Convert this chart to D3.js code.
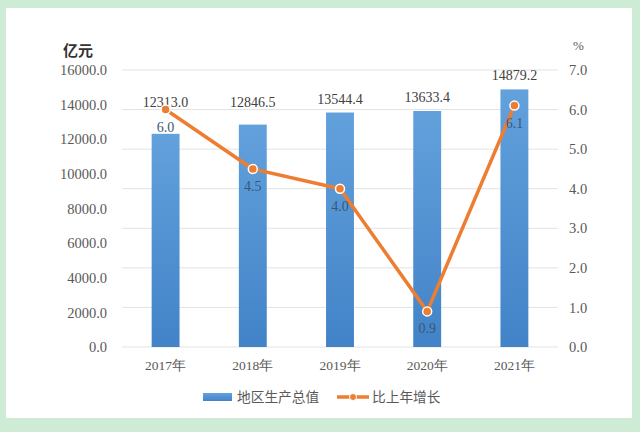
<!DOCTYPE html>
<html>
<head>
<meta charset="utf-8">
<script src="https://cdn.jsdelivr.net/npm/d3@7"></script>
<style>
  body { margin: 0; background: #cdebd5; }
  svg { display: block; }
</style>
</head>
<body>
<div id="chart"></div>
<script>
// data
const years = ["2017年", "2018年", "2019年", "2020年", "2021年"];
const gdp = [12313.0, 12846.5, 13544.4, 13633.4, 14879.2];
const growth = [6.0, 4.5, 4.0, 0.9, 6.1];
const leftTicks = [0, 2000, 4000, 6000, 8000, 10000, 12000, 14000, 16000];
const rightTicks = [0, 1, 2, 3, 4, 5, 6, 7];
const seriesNames = ["地区生产总值", "比上年增长"];

const width = 640, height = 432;
const margin = { top: 70, right: 82, bottom: 85, left: 122 };
const innerWidth = width - margin.left - margin.right;
const innerHeight = height - margin.top - margin.bottom;

const serif = "'Liberation Serif', 'Times New Roman', serif";
const cjk = "'Noto Sans CJK SC', sans-serif";
const textColor = "#595959";

const svg = d3.select("#chart")
  .append("svg")
  .attr("width", width)
  .attr("height", height);

// white panel on green background
svg.append("rect")
  .attr("x", 6).attr("y", 8)
  .attr("width", 626).attr("height", 410)
  .attr("fill", "#ffffff");

const defs = svg.append("defs");
const grad = defs.append("linearGradient")
  .attr("id", "barGrad")
  .attr("x1", 0).attr("y1", 0).attr("x2", 0).attr("y2", 1);
grad.append("stop").attr("offset", "0%").attr("stop-color", "#62a1dc");
grad.append("stop").attr("offset", "100%").attr("stop-color", "#4283c8");

const inner = svg.append("g")
  .attr("transform", `translate(${margin.left}, ${margin.top})`);

// scales
const xScale = d3.scaleBand()
  .domain(years)
  .range([0, innerWidth])
  .paddingInner(0.68)
  .paddingOuter(0.34);

const yLeft = d3.scaleLinear()
  .domain([0, 16000])
  .range([innerHeight, 0]);

const yRight = d3.scaleLinear()
  .domain([0, 7])
  .range([innerHeight, 0]);

// gridlines follow the right axis
inner.append("g")
  .selectAll("line")
  .data(rightTicks)
  .join("line")
  .attr("x1", 0)
  .attr("x2", innerWidth)
  .attr("y1", d => yRight(d))
  .attr("y2", d => yRight(d))
  .attr("stroke", "#e3e3e3")
  .attr("stroke-width", 1);

// left axis
const leftAxis = inner.append("g")
  .call(d3.axisLeft(yLeft).tickValues(leftTicks).tickFormat(d3.format(".1f")).tickSize(0).tickPadding(15));
leftAxis.select(".domain").remove();
leftAxis.selectAll("text")
  .attr("fill", textColor)
  .style("font-family", serif)
  .style("font-size", "14.5px");

// right axis
const rightAxis = inner.append("g")
  .attr("transform", `translate(${innerWidth}, 0)`)
  .call(d3.axisRight(yRight).tickValues(rightTicks).tickFormat(d3.format(".1f")).tickSize(0).tickPadding(11));
rightAxis.select(".domain").remove();
rightAxis.selectAll("text")
  .attr("fill", textColor)
  .style("font-family", serif)
  .style("font-size", "14.5px");

// x axis
const xAxis = inner.append("g")
  .attr("transform", `translate(0, ${innerHeight})`)
  .call(d3.axisBottom(xScale).tickSize(0).tickPadding(13));
xAxis.select(".domain").remove();
xAxis.selectAll("text")
  .attr("fill", textColor)
  .style("font-family", serif)
  .style("font-size", "13.5px");

// axis units
svg.append("text")
  .text("亿元")
  .attr("x", 63).attr("y", 56)
  .attr("fill", "#333333")
  .style("font-family", cjk)
  .style("font-weight", "bold")
  .style("font-size", "15px");

svg.append("text")
  .text("%")
  .attr("x", 573).attr("y", 50)
  .attr("fill", textColor)
  .style("font-family", serif)
  .style("font-size", "13px");

// bars
inner.selectAll("rect.bar")
  .data(gdp)
  .join("rect")
  .attr("class", "bar")
  .attr("x", (d, i) => xScale(years[i]))
  .attr("y", d => yLeft(d))
  .attr("width", xScale.bandwidth())
  .attr("height", d => innerHeight - yLeft(d))
  .attr("fill", "url(#barGrad)");

// bar labels - the lower ones are lifted to a common row above the line
const labelRow = yLeft(d3.median(gdp)) - 6;
inner.selectAll("text.barLabel")
  .data(gdp)
  .join("text")
  .attr("class", "barLabel")
  .attr("x", (d, i) => xScale(years[i]) + xScale.bandwidth() / 2)
  .attr("y", d => Math.min(yLeft(d) - 9, labelRow))
  .attr("text-anchor", "middle")
  .attr("fill", "#404040")
  .style("font-family", serif)
  .style("font-size", "14px")
  .text(d => d3.format(".1f")(d));

// growth line
const cx = i => xScale(years[i]) + xScale.bandwidth() / 2;
const line = d3.line()
  .x((d, i) => cx(i))
  .y(d => yRight(d));

inner.append("path")
  .datum(growth)
  .attr("d", line)
  .attr("fill", "none")
  .attr("stroke", "#ed7d31")
  .attr("stroke-width", 3.5)
  .attr("stroke-linejoin", "round");

inner.selectAll("circle.pt")
  .data(growth)
  .join("circle")
  .attr("class", "pt")
  .attr("cx", (d, i) => cx(i))
  .attr("cy", d => yRight(d))
  .attr("r", 4.5)
  .attr("fill", "#ed7d31")
  .attr("stroke", "#ffffff")
  .attr("stroke-width", 1.5);

// growth labels (below points)
inner.selectAll("text.ptLabel")
  .data(growth)
  .join("text")
  .attr("class", "ptLabel")
  .attr("x", (d, i) => cx(i))
  .attr("y", d => yRight(d) + 22)
  .attr("text-anchor", "middle")
  .attr("fill", "#3b5778")
  .style("font-family", serif)
  .style("font-size", "14px")
  .text(d => d3.format(".1f")(d));

// legend
const legend = svg.append("g");
legend.append("rect")
  .attr("x", 203).attr("y", 393)
  .attr("width", 29).attr("height", 8)
  .attr("fill", "url(#barGrad)");
legend.append("text")
  .text(seriesNames[0])
  .attr("x", 237).attr("y", 402)
  .attr("fill", textColor)
  .style("font-family", cjk)
  .style("font-size", "13.7px");

legend.append("line")
  .attr("x1", 337).attr("x2", 369)
  .attr("y1", 397).attr("y2", 397)
  .attr("stroke", "#ed7d31")
  .attr("stroke-width", 3.5);
legend.append("circle")
  .attr("cx", 353).attr("cy", 397)
  .attr("r", 3.5)
  .attr("fill", "#ed7d31")
  .attr("stroke", "#ffffff")
  .attr("stroke-width", 1);
legend.append("text")
  .text(seriesNames[1])
  .attr("x", 372).attr("y", 402)
  .attr("fill", textColor)
  .style("font-family", cjk)
  .style("font-size", "13.7px");
</script>
</body>
</html>
